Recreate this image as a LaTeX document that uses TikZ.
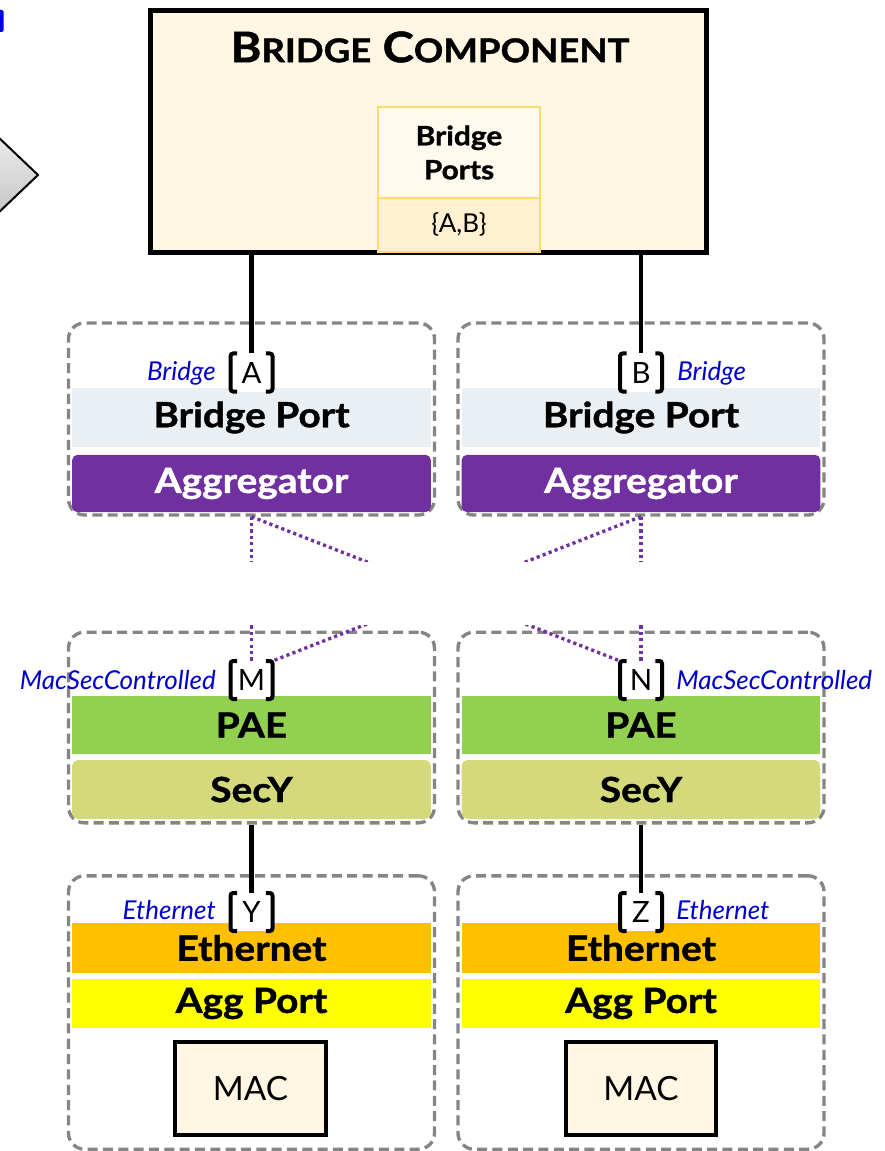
\documentclass[tikz,border=0pt]{standalone}
\usepackage{fontspec}
\setmainfont{Lato}
\newfontfamily\heavyfont{Lato}[FakeStretch = 1.12, BoldFeatures = {FakeBold = 1.2}]
\usetikzlibrary{positioning}

\definecolor{cream}{HTML}{FFF6E3}
\definecolor{portsupper}{HTML}{FFF9EE}
\definecolor{portslower}{HTML}{FFF0D2}
\definecolor{portsborder}{HTML}{FFDB6E}
\definecolor{bpfill}{HTML}{EAEFF3}
\definecolor{aggpurple}{HTML}{7030A0}
\definecolor{paegreen}{HTML}{92D050}
\definecolor{secyolive}{HTML}{D4DA7C}
\definecolor{ethorange}{HTML}{FFC000}
\definecolor{aggyellow}{HTML}{FFFF00}
\definecolor{labelblue}{HTML}{0000CC}
\definecolor{groupgray}{HTML}{858585}

\begin{document}
\begin{tikzpicture}[x = 0.75pt, y = -0.75pt,
    component/.style = {draw, line width = 3.75pt, fill = cream, minimum width = 417pt, minimum height = 182pt, inner sep = 0},
    portlist/.style = {draw = portsborder, line width = 1.8pt, minimum width = 121.5pt, inner sep = 0, outer sep = 0},
    group/.style = {draw = groupgray, line width = 2.5pt, dash pattern = on 7.5pt off 4pt, rounded corners = 12pt, minimum width = 274.5pt, inner sep = 0},
    band/.style = {minimum width = 269pt, inner sep = 0, font = \heavyfont\bfseries\fontsize{26}{28}\selectfont},
    port/.style = {fill = white, minimum width = 31.5pt, minimum height = 28.5pt, inner sep = 0, outer sep = 0, font = \fontsize{22}{24}\selectfont},
    bracket/.style = {line width = 3pt, rounded corners = 2pt},
    kind/.style = {text = labelblue, font = \itshape\fontsize{19.5}{21}\selectfont, inner sep = 0},
    wire/.style = {line width = 3.5pt},
    agglink/.style = {aggpurple, line width = 2.5pt, dash pattern = on 2.4pt off 2.4pt},
    macbox/.style = {draw, line width = 3pt, fill = cream, minimum width = 113pt, minimum height = 70pt, font = \fontsize{25}{27}\selectfont}]
    \useasboundingbox (0, 0) rectangle (884, 1151);

    % bits of the slide cut off at the left edge
    \fill[blue!90!black, rounded corners = 1pt] (-4, 10) rectangle (3.5, 32);
    \draw[line width = 1.5pt, top color = gray!15, bottom color = gray!45] (-4, 135) -- (38, 175) -- (-4, 215);

    % dashed groups
    \node[group, minimum height = 144pt] (grpA) at (251.5, 419) {};
    \node[group, minimum height = 144pt] (grpB) at (641, 419) {};
    \node[group, minimum height = 143pt] (grpM) at (251.5, 727.5) {};
    \node[group, minimum height = 143pt] (grpN) at (641, 727.5) {};
    \node[group, minimum height = 205pt] (grpY) at (251.5, 1012.5) {};
    \node[group, minimum height = 205pt] (grpZ) at (641, 1012.5) {};

    % layers
    \node[band, fill = bpfill, minimum height = 44pt] (bpA) at (251.5, 417.5) {Bridge Port};
    \node[band, fill = bpfill, minimum height = 44pt] (bpB) at (641, 417.5) {Bridge Port};
    \node[band, fill = aggpurple, text = white, minimum height = 43pt, rounded corners = 4pt] (aggA) at (251.5, 483.5) {Aggregator};
    \node[band, fill = aggpurple, text = white, minimum height = 43pt, rounded corners = 4pt] (aggB) at (641, 483.5) {Aggregator};
    \node[band, fill = paegreen, minimum height = 43.5pt] (paeM) at (251.5, 725) {PAE};
    \node[band, fill = paegreen, minimum height = 43.5pt] (paeN) at (641, 725) {PAE};
    \node[band, fill = secyolive, minimum height = 44pt, rounded corners = 4pt] (secyM) at (251.5, 789.5) {SecY};
    \node[band, fill = secyolive, minimum height = 44pt, rounded corners = 4pt] (secyN) at (641, 789.5) {SecY};
    \node[band, fill = ethorange, minimum height = 37.5pt] (ethY) at (251.5, 948) {Ethernet};
    \node[band, fill = ethorange, minimum height = 37.5pt] (ethZ) at (641, 948) {Ethernet};
    \node[band, fill = aggyellow, minimum height = 37pt] (apY) at (251.5, 1003.5) {Agg Port};
    \node[band, fill = aggyellow, minimum height = 37pt] (apZ) at (641, 1003.5) {Agg Port};

    \node[macbox] (macY) at (250.5, 1088.5) {MAC};
    \node[macbox] (macZ) at (641, 1088.5) {MAC};

    % bridge component
    \node[component] (bridge) at (428, 131.5) {};
    \node[font = \heavyfont\bfseries\fontsize{31.5}{33}\selectfont] (title) at (430, 47) {B{\fontsize{24.5}{26}\selectfont RIDGE} C{\fontsize{24.5}{26}\selectfont OMPONENT}};
    \node[portlist, fill = portsupper, minimum height = 68pt, align = center, font = \heavyfont\bfseries\fontsize{20}{25.5}\selectfont] (ports) at (459, 152.5) {Bridge\\Ports};
    \node[portlist, fill = portslower, minimum height = 40.5pt, below = 0pt of ports, font = \fontsize{19.5}{21}\selectfont] (portset) {\{A,B\}};

    % ports
    \node[port] (pA) at (251.5, 372.5) {A};
    \node[port] (pB) at (641, 372.5) {B};
    \node[port] (pM) at (251.5, 680) {M};
    \node[port] (pN) at (641, 680) {N};
    \node[port] (pY) at (251.5, 912) {Y};
    \node[port] (pZ) at (641, 912) {Z};

    % connections
    \draw[wire] (bridge.south -| pA) -- (pA.north);
    \draw[wire] (bridge.south -| pB) -- (pB.north);
    \draw[wire] (grpM.south) -- (pY.north);
    \draw[wire] (grpN.south) -- (pZ.north);

    \draw[agglink] (grpA.south) -- (pM.north);
    \draw[agglink] (grpA.south) -- (pN.north west);
    \draw[agglink] (grpB.south) -- (pN.north);
    \draw[agglink] (grpB.south) -- (pM.north east);
    \fill[white] (200, 562) rectangle (700, 625);

    \draw[bracket] ([xshift = 5pt]pA.north west) -- (pA.north west) -- (pA.south west) -- ([xshift = 5pt]pA.south west)
                   ([xshift = -5pt]pA.north east) -- (pA.north east) -- (pA.south east) -- ([xshift = -5pt]pA.south east);
    \draw[bracket] ([xshift = 5pt]pB.north west) -- (pB.north west) -- (pB.south west) -- ([xshift = 5pt]pB.south west)
                   ([xshift = -5pt]pB.north east) -- (pB.north east) -- (pB.south east) -- ([xshift = -5pt]pB.south east);
    \draw[bracket] ([xshift = 5pt]pM.north west) -- (pM.north west) -- (pM.south west) -- ([xshift = 5pt]pM.south west)
                   ([xshift = -5pt]pM.north east) -- (pM.north east) -- (pM.south east) -- ([xshift = -5pt]pM.south east);
    \draw[bracket] ([xshift = 5pt]pN.north west) -- (pN.north west) -- (pN.south west) -- ([xshift = 5pt]pN.south west)
                   ([xshift = -5pt]pN.north east) -- (pN.north east) -- (pN.south east) -- ([xshift = -5pt]pN.south east);
    \draw[bracket] ([xshift = 5pt]pY.north west) -- (pY.north west) -- (pY.south west) -- ([xshift = 5pt]pY.south west)
                   ([xshift = -5pt]pY.north east) -- (pY.north east) -- (pY.south east) -- ([xshift = -5pt]pY.south east);
    \draw[bracket] ([xshift = 5pt]pZ.north west) -- (pZ.north west) -- (pZ.south west) -- ([xshift = 5pt]pZ.south west)
                   ([xshift = -5pt]pZ.north east) -- (pZ.north east) -- (pZ.south east) -- ([xshift = -5pt]pZ.south east);

    % port kinds
    \node[kind, anchor = east] (kindA) at (216, 373) {Bridge};
    \node[kind, anchor = west] (kindB) at (677, 373) {Bridge};
    \node[kind, anchor = east] (kindM) at (216, 680) {MacSecControlled};
    \node[kind, anchor = west] (kindN) at (676, 680) {MacSecControlled};
    \node[kind, anchor = east] (kindY) at (216, 910) {Ethernet};
    \node[kind, anchor = west] (kindZ) at (676, 910) {Ethernet};
\end{tikzpicture}
\end{document}
